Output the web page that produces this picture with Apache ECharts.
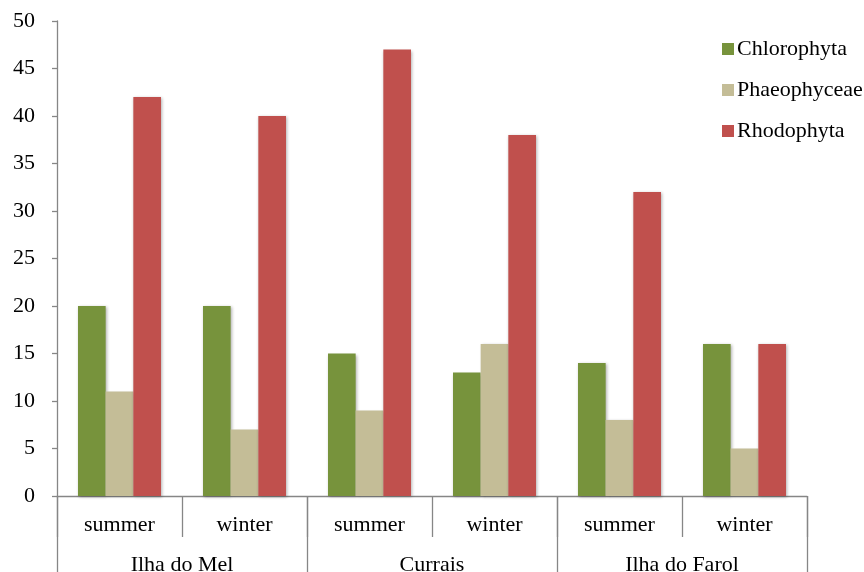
<!DOCTYPE html>
<html>
<head>
<meta charset="utf-8">
<script src="https://cdn.jsdelivr.net/npm/echarts@6/dist/echarts.min.js"></script>
<style>
  html, body { margin: 0; padding: 0; background: #fff; }
  #chart { width: 864px; height: 572px; }
</style>
</head>
<body>
<div id="chart"></div>
<script>
// Seasons within each site, and the sites themselves
const seasons = ['summer', 'winter', 'summer', 'winter', 'summer', 'winter'];
const sites = ['Ilha do Mel', 'Currais', 'Ilha do Farol'];
const seriesNames = ['Chlorophyta', 'Phaeophyceae', 'Rhodophyta'];

// Number of taxa per group, in the order of the season categories
const chlorophyta = [20, 20, 15, 13, 14, 16];
const phaeophyceae = [11, 7, 9, 16, 8, 5];
const rhodophyta = [42, 40, 47, 38, 32, 16];

const colors = ['#77933C', '#C4BD97', '#C0504D'];
const font = 'Liberation Serif, Times New Roman, serif';
const axisGrey = '#868686';

const chart = echarts.init(document.getElementById('chart'));

function barSeries(name, data, color) {
  return {
    name: name,
    type: 'bar',
    xAxisIndex: 0,
    data: data,
    barGap: '0%',
    barCategoryGap: '33.6%',
    itemStyle: {
      color: color,
      shadowColor: 'rgba(0,0,0,0.3)',
      shadowBlur: 3,
      shadowOffsetX: 1,
      shadowOffsetY: 1
    }
  };
}

chart.setOption({
  animation: false,
  color: colors,
  grid: { left: 57, right: 57, top: 21, bottom: 76, containLabel: false, outerBoundsMode: 'none' },
  legend: {
    orient: 'vertical',
    left: 717,
    top: 33,
    itemWidth: 12,
    itemHeight: 12,
    itemGap: 19,
    icon: 'rect',
    textStyle: { fontFamily: font, fontSize: 22, color: '#000', padding: [0, 0, 0, -2] },
    data: seriesNames
  },
  xAxis: [
    {
      type: 'category',
      data: seasons,
      position: 'bottom',
      axisLine: { show: true, lineStyle: { color: axisGrey, width: 1.3 } },
      axisTick: { show: true, interval: 0, length: 41, lineStyle: { color: axisGrey, width: 1.3 } },
      axisLabel: { interval: 0, margin: 18, fontFamily: font, fontSize: 22, color: '#000' }
    },
    {
      type: 'category',
      data: sites,
      position: 'bottom',
      axisLine: { show: false },
      axisTick: { show: true, interval: 0, length: 80, lineStyle: { color: axisGrey, width: 1.3 } },
      axisLabel: { interval: 0, margin: 58, fontFamily: font, fontSize: 22, color: '#000' }
    }
  ],
  yAxis: {
    type: 'value',
    min: 0,
    max: 50,
    interval: 5,
    splitLine: { show: false },
    axisLine: { show: true, lineStyle: { color: axisGrey, width: 1.3 } },
    axisTick: { show: true, length: 5, lineStyle: { color: axisGrey, width: 1.3 } },
    axisLabel: { margin: 22, fontFamily: font, fontSize: 22, color: '#000' }
  },
  series: [
    barSeries(seriesNames[0], chlorophyta, colors[0]),
    barSeries(seriesNames[1], phaeophyceae, colors[1]),
    barSeries(seriesNames[2], rhodophyta, colors[2])
  ]
});
</script>
</body>
</html>
